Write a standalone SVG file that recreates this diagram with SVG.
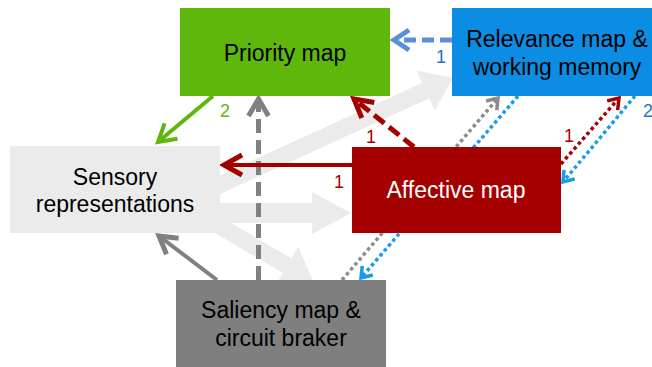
<svg xmlns="http://www.w3.org/2000/svg" width="652" height="367" viewBox="0 0 652 367">
<style>
  text { font-family: "Liberation Sans", Arial, sans-serif; }
  .lbl { font-size: 23px; text-anchor: middle; fill: #000; }
  .num { font-size: 18px; text-anchor: middle; }
  .wide { fill: #ebebeb; }
  .c { fill: none; }
</style>
<defs>
  <marker id="m-blue" markerUnits="userSpaceOnUse" viewBox="-20 -14 24 28" refX="0" refY="0" markerWidth="24" markerHeight="28" orient="auto" overflow="visible">
    <path d="M-15,-10 L0,0 L-15,10" fill="none" stroke="#5b8fd6" stroke-width="5"/>
  </marker>
  <marker id="m-green" markerUnits="userSpaceOnUse" viewBox="-20 -14 24 28" refX="0" refY="0" markerWidth="24" markerHeight="28" orient="auto" overflow="visible">
    <path d="M-17,-10 L0,0 L-17,10" fill="none" stroke="#5fb70b" stroke-width="4"/>
  </marker>
  <marker id="m-gray" markerUnits="userSpaceOnUse" viewBox="-20 -14 24 28" refX="0" refY="0" markerWidth="24" markerHeight="28" orient="auto" overflow="visible">
    <path d="M-17,-10 L0,0 L-17,10" fill="none" stroke="#808080" stroke-width="5"/>
  </marker>
  <marker id="m-red" markerUnits="userSpaceOnUse" viewBox="-20 -14 24 28" refX="0" refY="0" markerWidth="24" markerHeight="28" orient="auto" overflow="visible">
    <path d="M-18,-10 L0,0 L-18,10" fill="none" stroke="#a50000" stroke-width="5"/>
  </marker>
  <marker id="m-dgray" markerUnits="userSpaceOnUse" viewBox="-20 -14 24 28" refX="0" refY="0" markerWidth="24" markerHeight="28" orient="auto" overflow="visible">
    <path d="M-10,-7 L0,0 L-10,7" fill="none" stroke="#8c8c8c" stroke-width="3.5"/>
  </marker>
  <marker id="m-dblue" markerUnits="userSpaceOnUse" viewBox="-20 -14 24 28" refX="0" refY="0" markerWidth="24" markerHeight="28" orient="auto" overflow="visible">
    <path d="M-10,-7 L0,0 L-10,7" fill="none" stroke="#1a9be8" stroke-width="3.5"/>
  </marker>
  <marker id="m-dred" markerUnits="userSpaceOnUse" viewBox="-20 -14 24 28" refX="0" refY="0" markerWidth="24" markerHeight="28" orient="auto" overflow="visible">
    <path d="M-10,-7 L0,0 L-10,7" fill="none" stroke="#a50000" stroke-width="3.5"/>
  </marker>
</defs>

<g id="wide-arrows">
  <polygon class="wide" points="218.5,194.7 211.5,179.3 422.2,82.8 416.5,70.5 453,78 434.9,110.5 429.2,98.2"/>
  <polygon class="wide" points="215,203 312,203 312,192 351,213 312,234 312,223 215,223"/>
  <polygon class="wide" points="200.9,224.8 209.5,210.2 291.4,258.5 298.3,246.8 313,281 275.9,284.8 282.8,273.1"/>
</g>

<g id="connectors">
  <path class="c" d="M452,40 L394,40" stroke="#5b8fd6" stroke-width="5" stroke-dasharray="12 6" marker-end="url(#m-blue)"/>
  <path class="c" d="M213,96 L158,142" stroke="#5fb70b" stroke-width="4" marker-end="url(#m-green)"/>
  <path class="c" d="M258.5,280 L258.5,99" stroke="#808080" stroke-width="5" stroke-dasharray="14 7" marker-end="url(#m-gray)"/>
  <path class="c" d="M414,147 L354,99" stroke="#a50000" stroke-width="5" stroke-dasharray="13 6" marker-end="url(#m-red)"/>
  <path class="c" d="M352,165 L224,165" stroke="#a50000" stroke-width="4" marker-end="url(#m-red)"/>
  <path class="c" d="M217,280 L159,236" stroke="#808080" stroke-width="4" marker-end="url(#m-gray)"/>
  <path class="c" d="M342,280 L498,98" stroke="#8c8c8c" stroke-width="3.5" stroke-dasharray="3.5 3" marker-end="url(#m-dgray)"/>
  <path class="c" d="M518,96 L361,278" stroke="#1a9be8" stroke-width="3.5" stroke-dasharray="3.5 3" marker-end="url(#m-dblue)"/>
  <path class="c" d="M561,164 L619,98" stroke="#a50000" stroke-width="3.5" stroke-dasharray="3.5 3" marker-end="url(#m-dred)"/>
  <path class="c" d="M635,96 L563,182" stroke="#1a9be8" stroke-width="3.5" stroke-dasharray="3.5 3" marker-end="url(#m-dblue)"/>
</g>

<g id="priority">
  <rect x="180" y="8" width="210" height="88" fill="#5fb70b"/>
  <text class="lbl" x="285" y="61">Priority map</text>
</g>
<g id="relevance">
  <rect x="452" y="8" width="211" height="88" fill="#0b8de3"/>
  <text class="lbl" x="557" y="47">Relevance map &amp;</text>
  <text class="lbl" x="557" y="74.5">working memory</text>
</g>
<g id="sensory">
  <rect x="10" y="146" width="210" height="87" fill="#ebebeb"/>
  <text class="lbl" x="115" y="185">Sensory</text>
  <text class="lbl" x="115" y="212">representations</text>
</g>
<g id="affective">
  <rect x="352" y="147" width="209" height="86" fill="#a50000"/>
  <text class="lbl" x="456" y="198" style="fill:#ffffff">Affective map</text>
</g>
<g id="saliency">
  <rect x="176" y="280" width="210" height="87" fill="#7f7f7f"/>
  <text class="lbl" x="281" y="318">Saliency map &amp;</text>
  <text class="lbl" x="281" y="345.5">circuit braker</text>
</g>

<g id="labels">
  <text class="num" x="441" y="63" fill="#2f6fc3">1</text>
  <text class="num" x="225" y="117" fill="#5fb70b">2</text>
  <text class="num" x="371" y="143" fill="#a50000">1</text>
  <text class="num" x="339" y="188" fill="#a50000">1</text>
  <text class="num" x="569" y="142" fill="#a50000">1</text>
  <text class="num" x="648" y="117" fill="#2f6fc3">2</text>
</g>
</svg>
